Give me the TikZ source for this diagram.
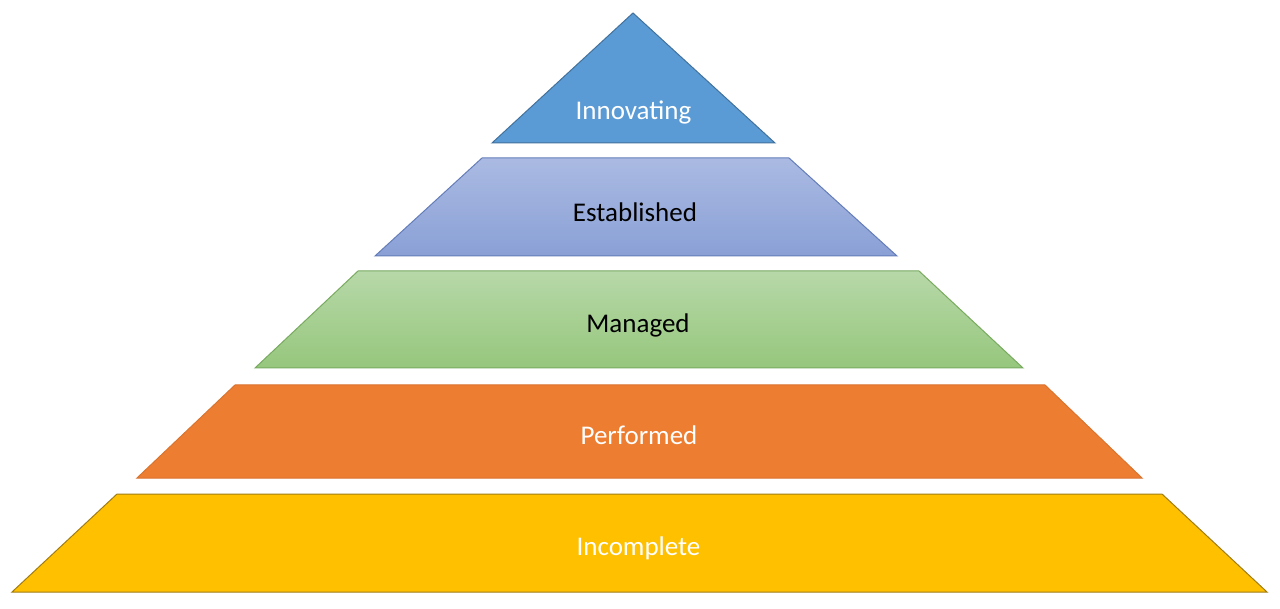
\documentclass[tikz,border=0pt]{standalone}
\usepackage{fontspec}
\setmainfont{Carlito}
\definecolor{innofill}{RGB}{91,155,213}
\definecolor{innoline}{RGB}{65,113,156}
\definecolor{esttop}{RGB}{170,186,226}
\definecolor{estbot}{RGB}{138,160,214}
\definecolor{estline}{RGB}{100,125,185}
\definecolor{mantop}{RGB}{183,216,168}
\definecolor{manbot}{RGB}{150,199,125}
\definecolor{manline}{RGB}{120,170,95}
\definecolor{perffill}{RGB}{237,125,49}
\definecolor{incfill}{RGB}{255,192,0}
\definecolor{incline}{RGB}{160,125,20}
\tikzset{
  lbl/.style={font=\fontsize{27}{30}\selectfont, inner sep=0pt, anchor=base},
  tier/.style={line width=1pt, line join=miter}
}
\begin{document}
\begin{tikzpicture}[x=1pt,y=-1pt]
\useasboundingbox (0,0) rectangle (1280,609);
\fill[white] (0,0) rectangle (1280,609);
% Innovating
\path[tier, draw=innoline, fill=innofill] (633,13) -- (775,143) -- (492,143) -- cycle;
% Established
\path[tier, draw=estline, top color=esttop, bottom color=estbot] (482,158) -- (789,158) -- (897,256) -- (375,256) -- cycle;
% Managed
\path[tier, draw=manline, top color=mantop, bottom color=manbot] (358,271) -- (919,271) -- (1023,368) -- (255,368) -- cycle;
% Performed
\path[tier, draw=perffill!92!black, fill=perffill] (235,385) -- (1045,385) -- (1142,478) -- (137,478) -- cycle;
% Incomplete
\path[tier, draw=incline, fill=incfill] (117,494) -- (1162,494) -- (1267,592) -- (12,592) -- cycle;
\node[lbl, text=white] (inno) at (633.5,120) {Innovating};
\node[lbl, text=black] (est) at (635,222) {Established};
\node[lbl, text=black] (man) at (638,333) {Managed};
\node[lbl, text=white] (perf) at (639,444) {Performed};
\node[lbl, text=white] (inc) at (638.5,555) {Incomplete};
\end{tikzpicture}
\end{document}
